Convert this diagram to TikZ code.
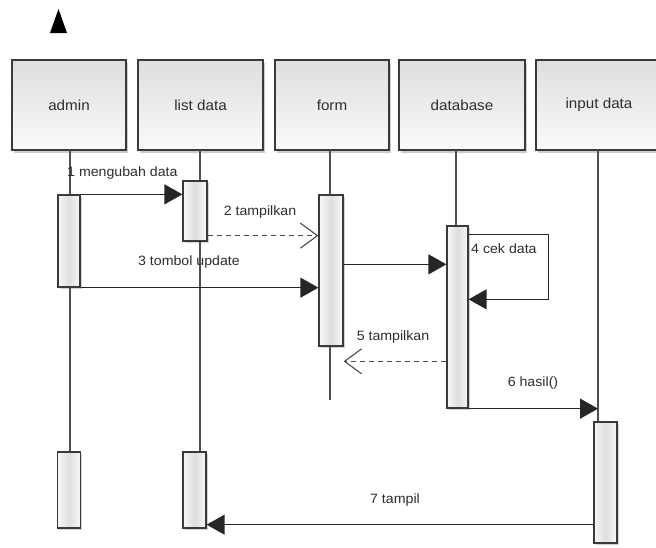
\documentclass[tikz,border=0pt]{standalone}
\usepackage{fontspec}
\newfontfamily\lbl[FakeStretch=1.05]{Liberation Sans}
\usetikzlibrary{arrows.meta,shadows,calc}
\definecolor{txt}{HTML}{2E2E2E}
\definecolor{edge}{HTML}{3A3A3A}
\definecolor{life}{HTML}{505050}
\tikzset{
  hdr/.style={draw=edge, line width=1.6pt, top color=black!13, bottom color=black!2,
    drop shadow={shadow xshift=1.5pt, shadow yshift=-2.5pt, opacity=0.4},
    font=\lbl\fontsize{14.5}{16}\selectfont, text=txt, inner sep=0pt},
  actbox/.style={draw=edge, line width=1.3pt, left color=black!3, right color=black!3, middle color=black!13,
    drop shadow={shadow xshift=1.5pt, shadow yshift=-2pt, opacity=0.35}, inner sep=0pt, minimum width=22pt},
  lifeline/.style={draw=life, line width=1.1pt},
  msg/.style={draw=black!85, line width=1.4pt, -{Triangle[length=18pt,width=20pt]}},
  reply/.style={draw=black!70, line width=1.1pt, dash pattern=on 5pt off 4pt, -{Straight Barb[length=17pt,width=25pt,line width=1.1pt]}},
  lab/.style={font=\lbl\fontsize{13.5}{15}\selectfont, text=txt, inner sep=1pt},
}
\begin{document}
\begin{tikzpicture}[x=1pt,y=-1pt]
\useasboundingbox (0,0) rectangle (656,547);
\clip (0,0) rectangle (656,547);
\fill[white] (0,0) rectangle (656,547);
% top triangle
\fill[black] (50,33) -- (58.5,9) -- (67,33) -- cycle;
% headers
\node[hdr, minimum width=114pt, minimum height=90pt] (adm) at (69,105) {admin};
\node[hdr, minimum width=125pt, minimum height=90pt] (lst) at (200.5,105) {list data};
\node[hdr, minimum width=114pt, minimum height=90pt] (frm) at (332,105) {form};
\node[hdr, minimum width=126pt, minimum height=90pt] (db) at (462,105) {database};
\node[hdr, minimum width=126pt, minimum height=90pt] (inp) at (599,105) {input data};
% lifeline coordinates
\coordinate (La) at (70,150);
\coordinate (Ll) at (200,150);
\coordinate (Lf) at (330,150);
\coordinate (Ld) at (456,150);
\coordinate (Li) at (598,150);
\coordinate (Lfend) at (330,400);
% activations
\node[actbox, minimum width=22pt, minimum height=92pt] (admA) at (69,241) {};
\node[actbox, minimum width=23pt, minimum height=76pt] (admB) at (69,490) {};
\node[actbox, minimum width=24pt, minimum height=60pt] (lstA) at (195,211) {};
\node[actbox, minimum width=23pt, minimum height=76pt] (lstB) at (194.5,490) {};
\node[actbox, minimum width=24pt, minimum height=151pt] (frmA) at (331,270.5) {};
\node[actbox, minimum width=21pt, minimum height=182pt] (dbA) at (457.5,317) {};
\node[actbox, minimum width=23pt, minimum height=121pt] (inA) at (605.5,482.5) {};
% lifelines
\draw[lifeline] (La) -- (La |- admA.north);
\draw[lifeline] (La |- admA.south) -- (La |- admB.north);
\draw[lifeline] (Ll) -- (Ll |- lstA.north);
\draw[lifeline] (Ll |- lstA.south) -- (Ll |- lstB.north);
\draw[lifeline] (Lf) -- (Lf |- frmA.north);
\draw[lifeline] (Lf |- frmA.south) -- (Lfend);
\draw[lifeline] (Ld) -- (Ld |- dbA.north);
\draw[lifeline] (Li) -- (Li |- inA.north);
% messages
\draw[msg] (admA.north east) -- (admA.north east -| lstA.west);
\node[lab, anchor=west] (l1) at (66,173) {1 mengubah data};
\coordinate (p2) at ([yshift=6pt]lstA.south east);
\draw[reply] (p2) -- (p2 -| frmA.west);
\node[lab] (l2) at (260,212) {2 tampilkan};
\draw[msg] (admA.south east) -- (admA.south east -| frmA.west);
\node[lab] (l3) at (189,262) {3 tombol update};
\coordinate (p4) at ($(frmA.north east)+(0,70)$);
\draw[msg] (p4) -- (p4 -| dbA.west);
\coordinate (s1) at ($(dbA.north east)+(0,9)$);
\coordinate (s2) at ($(dbA.north east)+(80,9)$);
\coordinate (s3) at ($(dbA.north east)+(80,74)$);
\draw[msg] (s1) -- (s2) -- (s3) -- (s3 -| dbA.east);
\node[lab, anchor=west] (l4) at (470,249) {4 cek data};
\coordinate (p5) at ($(dbA.north west)+(0,136)$);
\draw[reply] (p5) -- (p5 -| frmA.east);
\node[lab] (l5) at (393,337) {5 tampilkan};
\draw[msg] (dbA.south east) -- (dbA.south east -| Li);
\node[lab] (l6) at (533,383) {6 hasil()};
\coordinate (p7) at ([yshift=4pt]lstB.south east);
\draw[msg] (p7 -| inA.west) -- (p7);
\node[lab] (l7) at (395,500) {7 tampil};
\end{tikzpicture}
\end{document}
